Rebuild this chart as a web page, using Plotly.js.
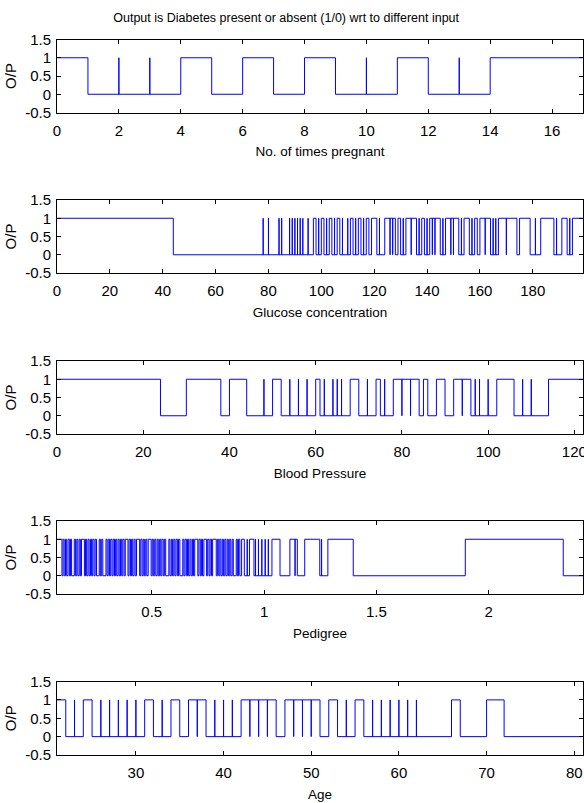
<!DOCTYPE html>
<html>
<head>
<meta charset="utf-8">
<script src="https://cdn.plot.ly/plotly-3.0.1.min.js"></script>
<style>html,body{margin:0;padding:0;background:#fff;}#chart{width:584px;height:803px;}</style>
</head>
<body>
<div id="chart"></div>
<script>
// ---------- DATA ----------
// Each series: the input's min/max, the output level at the min,
// and the x positions where the output line jumps (a repeated x = spike).
const chartTitle = 'Output is Diabetes present or absent (1/0) wrt to different input';
const inputNames = ['No. of times pregnant', 'Glucose concentration', 'Blood Pressure', 'Pedigree', 'Age'];
const yTickVals = [-0.5, 0, 0.5, 1, 1.5];
const yTickText = ['-0.5', '0', '0.5', '1', '1.5'];

const pregExtent = [0, 17];
const pregStart = 1;
const pregJumps = [1, 2, 2, 3, 3, 4, 5, 6, 7, 8, 9, 10, 10, 11, 12, 13, 13, 14];
const pregTicks = [0, 2, 4, 6, 8, 10, 12, 14, 16];

const glucExtent = [0, 199];
const glucStart = 1;
const glucJumps = [44, 78, 78, 80, 80, 84, 84, 85, 85, 88, 88, 89, 89, 90, 90, 91, 91, 92, 92, 93, 93, 95, 95,
  97, 98, 99, 99, 100, 101, 102, 102, 103, 104, 105, 105, 106, 107, 108, 108, 110, 110, 111, 112, 113, 113,
  114, 115, 116, 116, 117, 118, 119, 121, 122, 122, 124, 126, 126, 127, 127, 128, 129, 130, 131, 131, 132,
  134, 134, 136, 137, 137, 138, 139, 140, 140, 141, 142, 142, 143, 143, 145, 146, 146, 147, 149, 149, 150, 150,
  152, 153, 153, 154, 156, 157, 157, 158, 159, 160, 162, 162, 164, 165, 165, 166, 166, 167, 170, 170, 174,
  175, 179, 181, 181, 183, 188, 189, 189, 191, 193, 194, 194, 195];
const glucTicks = [0, 20, 40, 60, 80, 100, 120, 140, 160, 180];

const bpExtent = [0, 122];
const bpStart = 1;
const bpJumps = [24, 30, 38, 40, 44, 48, 48, 50, 52, 54, 54, 56, 56, 58, 58, 60, 61, 62, 62, 64, 64, 65, 65,
  66, 66, 68, 70, 72, 72, 74, 75, 76, 76, 78, 80, 80, 82, 82, 84, 85, 86, 88, 90, 92, 94, 94, 96, 97, 97,
  98, 98, 100, 100, 102, 106, 108, 108, 110, 110, 114];
const bpTicks = [0, 20, 40, 60, 80, 100, 120];

const pedExtent = [0.078, 2.42];
const pedStart = 1;
const pedJumps = [0.100, 0.105, 0.110, 0.116, 0.121, 0.127, 0.133, 0.138, 0.143,
  0.155, 0.160, 0.166, 0.171, 0.177, 0.182, 0.187,
  0.200, 0.205, 0.210, 0.216, 0.221, 0.227, 0.232, 0.237, 0.243, 0.248, 0.254,
  0.266, 0.271, 0.277, 0.282,
  0.296, 0.301, 0.306, 0.312, 0.317, 0.323, 0.328, 0.334, 0.339, 0.344, 0.350, 0.355, 0.361, 0.366, 0.371, 0.377, 0.382,
  0.394, 0.399, 0.405, 0.410, 0.415, 0.421, 0.426, 0.432,
  0.446, 0.451, 0.457, 0.462, 0.467, 0.473, 0.478, 0.484,
  0.497, 0.502, 0.507, 0.513, 0.518, 0.524, 0.529, 0.535, 0.540, 0.545, 0.551, 0.556, 0.562,
  0.576, 0.581, 0.587, 0.592, 0.598, 0.603, 0.608, 0.614, 0.619, 0.625,
  0.638, 0.643, 0.648, 0.654, 0.659, 0.664, 0.670, 0.675, 0.681, 0.686, 0.691,
  0.705, 0.710, 0.716, 0.721, 0.726, 0.732,
  0.744, 0.749, 0.755, 0.760, 0.766, 0.771,
  0.787, 0.792, 0.798, 0.803, 0.808, 0.814, 0.819, 0.825, 0.830, 0.836, 0.841, 0.847, 0.852, 0.858, 0.863,
  0.876, 0.881, 0.886, 0.892,
  0.900, 0.912, 0.925, 0.925, 0.935, 0.955, 0.962, 0.962, 0.975, 0.975, 0.990, 0.990, 1.005, 1.005,
  1.019, 1.019, 1.035, 1.071, 1.115, 1.138, 1.138, 1.148, 1.181, 1.248, 1.256, 1.256, 1.284, 1.397,
  1.896, 2.332];
const pedTicks = [0.5, 1, 1.5, 2];

const ageExtent = [21, 81];
const ageStart = 1;
const ageJumps = [22, 23, 23, 24, 25, 26, 26, 27, 27, 28, 28, 29, 29, 30, 30, 31, 32, 33, 33, 34, 35, 36,
  37, 37, 38, 39, 39, 40, 40, 41, 41, 42, 43, 43, 44, 44, 45, 45, 46, 47, 48, 48, 49, 49, 50, 50, 51, 52,
  53, 54, 54, 55, 56, 57, 57, 58, 58, 59, 59, 60, 60, 61, 61, 62, 62, 66, 67, 70, 72];
const ageTicks = [30, 40, 50, 60, 70, 80];

// ---------- BUILD ----------
function stepLine(extent, start, jumps) {
  const xs = [extent[0]], ys = [start];
  let y = start;
  for (const j of jumps) {
    xs.push(j); ys.push(y);
    y = 1 - y;
    xs.push(j); ys.push(y);
  }
  xs.push(extent[1]); ys.push(y);
  return {xs, ys};
}

const series = [
  {extent: pregExtent, start: pregStart, jumps: pregJumps, ticks: pregTicks},
  {extent: glucExtent, start: glucStart, jumps: glucJumps, ticks: glucTicks},
  {extent: bpExtent, start: bpStart, jumps: bpJumps, ticks: bpTicks},
  {extent: pedExtent, start: pedStart, jumps: pedJumps, ticks: pedTicks},
  {extent: ageExtent, start: ageStart, jumps: ageJumps, ticks: ageTicks}
];

const FONT = 'Liberation Sans, Arial, Helvetica, sans-serif';
const TICK_SIZE = 15, LABEL_SIZE = 13.5, TITLE_SIZE = 12.5, YLABEL_SIZE = 15;
const H = 803;
const panelPix = [[39.5, 112.5], [200, 273], [361, 434], [521, 594], [681.5, 755]];

const traces = [];
const layout = {
  width: 584, height: 803,
  margin: {l: 57, r: 1, t: 0, b: 0},
  paper_bgcolor: '#fff', plot_bgcolor: '#fff',
  showlegend: false,
  font: {family: FONT, size: 13, color: '#000'},
  title: {text: chartTitle, font: {family: FONT, size: TITLE_SIZE, color: '#000'},
          xref: 'container', x: 0.49, xanchor: 'center', yref: 'container', y: 1 - 18 / H, yanchor: 'middle'}
};

series.forEach((s, i) => {
  const n = i === 0 ? '' : String(i + 1);
  const line = stepLine(s.extent, s.start, s.jumps);
  traces.push({
    type: 'scatter', mode: 'lines', x: line.xs, y: line.ys,
    xaxis: 'x' + n, yaxis: 'y' + n,
    line: {color: '#0000ff', width: 1}, hoverinfo: 'skip'
  });
  const p = panelPix[i];
  layout['xaxis' + n] = {
    domain: [0, 1], anchor: 'y' + n, range: s.extent,
    tickmode: 'array', tickvals: s.ticks,
    ticks: 'inside', ticklen: 4, tickcolor: '#000', tickwidth: 1,
    ticklabelstandoff: 4, ticklabeloverflow: 'allow',
    showline: true, linecolor: '#000', linewidth: 1, mirror: 'allticks',
    showgrid: false, zeroline: false,
    tickfont: {family: FONT, size: TICK_SIZE, color: '#000'},
    title: {text: inputNames[i], font: {family: FONT, size: LABEL_SIZE, color: '#000'}, standoff: 9}
  };
  layout['yaxis' + n] = {
    domain: [1 - p[1] / H, 1 - p[0] / H], anchor: 'x' + n, range: [-0.5, 1.5],
    tickmode: 'array', tickvals: yTickVals, ticktext: yTickText,
    ticks: 'inside', ticklen: 4, tickcolor: '#000', tickwidth: 1,
    ticklabelstandoff: 2, ticklabeloverflow: 'allow',
    showline: true, linecolor: '#000', linewidth: 1, mirror: 'allticks',
    showgrid: false, zeroline: false,
    tickfont: {family: FONT, size: TICK_SIZE, color: '#000'},
    title: {text: 'O/P', font: {family: FONT, size: YLABEL_SIZE, color: '#000'}, standoff: 4}
  };
});

Plotly.newPlot('chart', traces, layout, {staticPlot: true, displayModeBar: false});
</script>
</body>
</html>
